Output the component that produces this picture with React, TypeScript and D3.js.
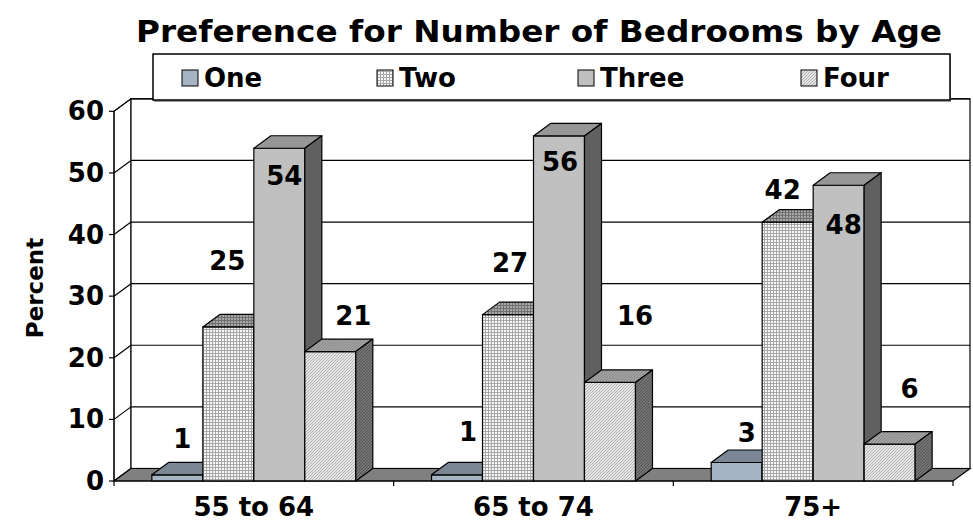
import React from "react";
import * as d3 from "d3";

const categories = ["55 to 64", "65 to 74", "75+"];
const seriesNames = ["One", "Two", "Three", "Four"];
const oneValues = [1, 1, 3];
const twoValues = [25, 27, 42];
const threeValues = [54, 56, 48];
const fourValues = [21, 16, 6];
const yTicks = [0, 10, 20, 30, 40, 50, 60];

// Hand-placed label nudges (px), per category then per series: [dx, dy from bar top]
const labelNudge = [
  [[5, -36], [-1, -66], [5, 28], [23, -36]],
  [[11, -43], [2, -52], [1, 26], [25, -66]],
  [[10, -30], [-5, -32], [5, 40], [20, -55]],
];

const W = 973;
const H = 528;
const FONT = "'DejaVu Sans', Verdana, sans-serif";
const DX = 17;
const DY = -12.5;

export default function App() {
  const values = [oneValues, twoValues, threeValues, fourValues];
  const y = d3.scaleLinear().domain([0, 60]).range([481, 111.3]);
  const x = d3.scaleBand<string>().domain(categories).range([114, 953]);
  const bw = x.bandwidth();
  const gap = bw * 0.2707;
  const xs = d3.scaleBand<string>().domain(seriesNames).range([gap / 2, bw - gap / 2]);
  const y0 = y(0);
  const yTop = y(60);
  const x0 = 114;
  const x1 = 953;

  const front = ["#a5b3c2", "url(#pTwo)", "#c0c0c0", "url(#pFour)"];
  const top = ["#7b8795", "url(#pTwoTop)", "#969696", "url(#pFourTop)"];
  const side = ["#5f6a77", "url(#pTwoSide)", "#606060", "url(#pFourSide)"];

  const pts = (a: number[][]) => a.map((p) => p.join(",")).join(" ");

  const bars: React.ReactNode[] = [];
  const labels: React.ReactNode[] = [];
  categories.forEach((c, ci) => {
    seriesNames.forEach((s, si) => {
      const v = values[si][ci];
      const bx0 = (x(c) as number) + (xs(s) as number);
      const bx1 = bx0 + xs.bandwidth();
      const by = y(v);
      bars.push(
        <g key={`${ci}-${si}`} stroke="#000" strokeWidth={1.2} strokeLinejoin="round">
          <rect x={bx0} y={by} width={bx1 - bx0} height={y0 - by} fill={front[si]} />
          <polygon
            points={pts([[bx0, by], [bx1, by], [bx1 + DX, by + DY], [bx0 + DX, by + DY]])}
            fill={top[si]}
          />
          <polygon
            points={pts([[bx1, by], [bx1 + DX, by + DY], [bx1 + DX, y0 + DY], [bx1, y0]])}
            fill={side[si]}
          />
        </g>
      );
      const [ndx, ndy] = labelNudge[ci][si];
      labels.push(
        <text
          key={`l${ci}-${si}`}
          x={(bx0 + bx1) / 2 + ndx}
          y={by + ndy}
          textAnchor="middle"
          dominantBaseline="central"
          fontFamily={FONT}
          fontWeight="bold"
          fontSize={26}
        >
          {v}
        </text>
      );
    });
  });

  const legendItems = [
    { name: "One", sx: 182, fill: front[0] },
    { name: "Two", sx: 377, fill: front[1] },
    { name: "Three", sx: 578, fill: front[2] },
    { name: "Four", sx: 801, fill: front[3] },
  ];

  return (
    <svg width={W} height={H} style={{ position: "absolute", left: 0, top: 0, background: "#fff" }}>
      <defs>
        <pattern id="pTwo" width={3} height={3} patternUnits="userSpaceOnUse">
          <rect width={3} height={3} fill="#a8a8a8" />
          <rect width={2} height={2} fill="#f6f6f6" />
        </pattern>
        <pattern id="pTwoTop" width={3} height={3} patternUnits="userSpaceOnUse">
          <rect width={3} height={3} fill="#707070" />
          <rect width={2} height={2} fill="#a8a8a8" />
        </pattern>
        <pattern id="pTwoSide" width={3} height={3} patternUnits="userSpaceOnUse">
          <rect width={3} height={3} fill="#4a4a4a" />
          <rect width={2} height={2} fill="#7a7a7a" />
        </pattern>
        <pattern id="pFour" width={3} height={3} patternUnits="userSpaceOnUse">
          <rect width={3} height={3} fill="#e4e4e4" />
          <path d="M0,3 L3,0" stroke="#b4b4b4" strokeWidth={1} />
        </pattern>
        <pattern id="pFourTop" width={3} height={3} patternUnits="userSpaceOnUse">
          <rect width={3} height={3} fill="#a2a2a2" />
          <path d="M0,3 L3,0" stroke="#8a8a8a" strokeWidth={1} />
        </pattern>
        <pattern id="pFourSide" width={3} height={3} patternUnits="userSpaceOnUse">
          <rect width={3} height={3} fill="#747474" />
          <path d="M0,3 L3,0" stroke="#555555" strokeWidth={1} />
        </pattern>
      </defs>

      {/* title */}
      <text
        x={539}
        y={31}
        textAnchor="middle"
        dominantBaseline="central"
        fontFamily={FONT}
        fontWeight="bold"
        fontSize={31}
        textLength={806}
        lengthAdjust="spacingAndGlyphs"
      >
        Preference for Number of Bedrooms by Age
      </text>

      {/* walls */}
      <polygon
        points={pts([[x0, y0], [x0 + DX, y0 + DY], [x0 + DX, yTop + DY], [x0, yTop]])}
        fill="#fff"
        stroke="#000"
        strokeWidth={1}
      />
      <rect
        x={x0 + DX}
        y={yTop + DY}
        width={x1 - x0}
        height={y0 - yTop}
        fill="#fff"
        stroke="#000"
        strokeWidth={1.2}
      />
      {yTicks.map((t) => (
        <g key={`g${t}`} stroke="#000" strokeWidth={1.2}>
          <line x1={x0} y1={y(t)} x2={x0 + DX} y2={y(t) + DY} />
          <line x1={x0 + DX} y1={y(t) + DY} x2={x1 + DX} y2={y(t) + DY} />
        </g>
      ))}

      {/* floor */}
      <polygon
        points={pts([[x0, y0], [x1, y0], [x1 + DX, y0 + DY], [x0 + DX, y0 + DY]])}
        fill="#808080"
        stroke="#000"
        strokeWidth={1.2}
      />

      {/* bars */}
      {bars}

      {/* value axis */}
      <line x1={x0} y1={yTop} x2={x0} y2={y0} stroke="#000" strokeWidth={1.2} />
      {yTicks.map((t) => (
        <g key={`t${t}`}>
          <line x1={x0 - 5} y1={y(t)} x2={x0} y2={y(t)} stroke="#000" strokeWidth={1.2} />
          <text
            x={104}
            y={y(t)}
            textAnchor="end"
            dominantBaseline="central"
            fontFamily={FONT}
            fontWeight="bold"
            fontSize={26}
          >
            {t}
          </text>
        </g>
      ))}

      {/* category axis */}
      <line x1={x0} y1={y0} x2={x1} y2={y0} stroke="#000" strokeWidth={1.2} />
      {[...categories.map((c) => x(c) as number), x1].map((tx, i) => (
        <line key={`ct${i}`} x1={tx} y1={y0} x2={tx} y2={y0 + 5} stroke="#000" strokeWidth={1.2} />
      ))}
      {categories.map((c) => (
        <text
          key={c}
          x={(x(c) as number) + bw / 2}
          y={507}
          textAnchor="middle"
          dominantBaseline="central"
          fontFamily={FONT}
          fontWeight="bold"
          fontSize={26}
        >
          {c}
        </text>
      ))}

      <text
        transform="translate(35,288) rotate(-90)"
        textAnchor="middle"
        dominantBaseline="central"
        fontFamily={FONT}
        fontWeight="bold"
        fontSize={23}
      >
        Percent
      </text>

      {/* data labels */}
      {labels}

      {/* legend */}
      <rect x={154} y={55} width={797} height={47} fill="#9a9a9a" />
      <rect x={153} y={54} width={797} height={46} fill="#fff" stroke="#000" strokeWidth={1.5} />
      {legendItems.map((it) => (
        <g key={it.name}>
          <rect x={it.sx} y={70} width={16} height={16} fill={it.fill} stroke="#000" strokeWidth={1} />
          <text
            x={it.sx + 22}
            y={78}
            dominantBaseline="central"
            fontFamily={FONT}
            fontWeight="bold"
            fontSize={26}
          >
            {it.name}
          </text>
        </g>
      ))}
    </svg>
  );
}
